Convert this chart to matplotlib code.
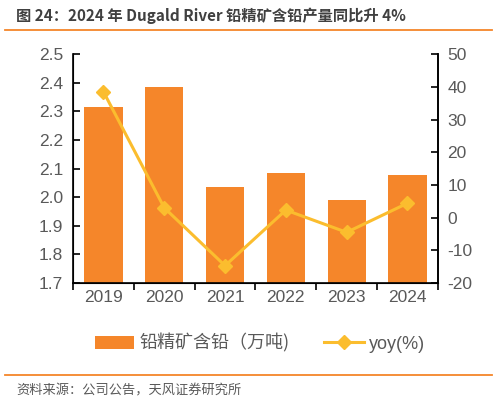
import matplotlib.pyplot as plt
import numpy as np

plt.rcParams['font.family'] = ['Noto Sans CJK SC', 'DejaVu Sans']

years = ['2019', '2020', '2021', '2022', '2023', '2024']
output = [2.315, 2.385, 2.035, 2.085, 1.99, 2.078]
yoy = [38.5, 3.0, -14.7, 2.3, -4.5, 4.4]

bar_color = '#F5862A'
line_color = '#FBBD2E'
txt_color = '#404040'
num_font = 'Liberation Sans'

fig = plt.figure(figsize=(4.97, 4.04), dpi=100)
ax = fig.add_axes([0.147, 0.2995, 0.734, 0.5665])
x = np.arange(len(years))
ax.bar(x, output, width=0.63, color=bar_color, label='铅精矿含铅（万吨)', zorder=2)
ax.set_ylim(1.7, 2.5)
ax.set_yticks(np.arange(1.7, 2.51, 0.1))
ax.set_yticklabels(['%.1f' % v for v in np.arange(1.7, 2.51, 0.1)], fontname=num_font)
ax.set_xlim(-0.5, len(years) - 0.5)
ax.set_xticks(x)
ax.set_xticklabels(years, fontname=num_font)
ax.set_xticks(np.arange(-0.5, len(years)), minor=True)
ax.tick_params(axis='x', which='major', length=0, labelsize=12.5, colors='#595959', pad=5)
ax.tick_params(axis='x', which='minor', length=5, direction='out', width=1.2)
ax.tick_params(axis='y', direction='in', length=5, width=1.2, labelsize=12.5, colors='#595959', pad=7)
ax.tick_params(axis='y', color='black')
ax.spines['top'].set_visible(False)
for s in ['left', 'right', 'bottom']:
    ax.spines[s].set_linewidth(1.2)

ax2 = ax.twinx()
ax2.plot(x, yoy, color=line_color, lw=2.2, marker='D', ms=7, label='yoy(%)', zorder=3)
ax2.set_ylim(-20, 50)
ax2.set_yticks(np.arange(-20, 51, 10))
ax2.set_yticklabels([str(v) for v in range(-20, 51, 10)], fontname=num_font)
ax2.tick_params(axis='y', direction='in', length=5, width=1.2, labelsize=12.5, colors='#595959', pad=7)
ax2.tick_params(axis='y', color='black')
ax2.spines['top'].set_visible(False)
ax2.spines['right'].set_linewidth(1.2)

h1, l1 = ax.get_legend_handles_labels()
h2, l2 = ax2.get_legend_handles_labels()
leg = fig.legend(h1 + h2, l1 + l2, loc='center', bbox_to_anchor=(0.523, 0.151), ncol=2, frameon=False,
                 fontsize=13, labelcolor='#595959', handlelength=2.2, columnspacing=1.9, handletextpad=0.3)
leg.get_texts()[1].set_fontname(num_font)

fig.text(0.032, 0.962, '图 24：2024 年 Dugald River 铅精矿含铅产量同比升 4%', fontsize=11,
         color=txt_color, fontweight='bold', va='center')
fig.add_artist(plt.Line2D([0.01, 0.99], [0.925, 0.925], color=bar_color, lw=1.3))
fig.add_artist(plt.Line2D([0.01, 0.99], [0.072, 0.072], color=bar_color, lw=1.3))
fig.text(0.032, 0.033, '资料来源：公司公告，天风证券研究所', fontsize=9.5, color='#595959', va='center')

fig.savefig('out.png', dpi=100)
